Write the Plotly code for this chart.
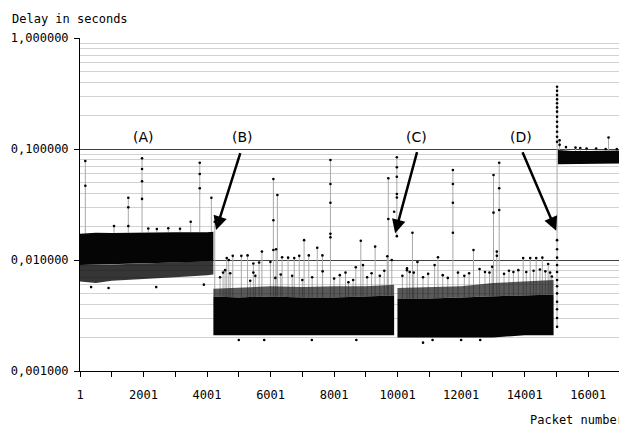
import numpy as np
import plotly.graph_objects as go

# ---------------- data ----------------
x_tick_vals = [1, 1001, 2001, 3001, 4001, 5001, 6001, 7001, 8001, 9001, 10001,
               11001, 12001, 13001, 14001, 15001, 16001, 17001]
x_tick_text = ["1", "", "2001", "", "4001", "", "6001", "", "8001", "", "10001",
               "", "12001", "", "14001", "", "16001", ""]
y_tick_vals = [0.001, 0.01, 0.1, 1.0]
y_tick_text = ["0,001000", "0,010000", "0,100000", "1,000000"]

# dense band (A): packets 1..4200
band_a_packets = [1, 500, 1000, 2000, 3000, 4000, 4200]
band_a_top = [0.0172, 0.0176, 0.0175, 0.0177, 0.0178, 0.0178, 0.0180]
band_a_core_bottom = [0.0090, 0.0090, 0.0091, 0.0093, 0.0095, 0.0097, 0.0098]
band_a_fringe_bottom = [0.0064, 0.0062, 0.0065, 0.0067, 0.0070, 0.0073, 0.0074]

# dense band after (B): packets 4200..9890
band_b_packets = [4200, 5000, 6000, 7000, 8000, 9000, 9890]
band_b_top = [0.0047, 0.0046, 0.0047, 0.0046, 0.0046, 0.0047, 0.0048]
band_b_halo = [0.0055, 0.0056, 0.0058, 0.0057, 0.0058, 0.0058, 0.0060]
band_b_bottom = [0.0021, 0.0021, 0.0021, 0.0021, 0.0021, 0.0021, 0.0021]

# dense band after (C): packets 9995..14910
band_c_packets = [9995, 11000, 12000, 13000, 14000, 14910]
band_c_top = [0.0045, 0.0045, 0.0046, 0.0047, 0.0048, 0.0049]
band_c_halo = [0.0056, 0.0057, 0.0058, 0.0062, 0.0064, 0.0066]
band_c_bottom = [0.0020, 0.0020, 0.0020, 0.0020, 0.0021, 0.0021]

# dense band after (D): packets 15046..17000
band_d_packets = [15046, 15500, 16000, 16500, 17000]
band_d_top = [0.098, 0.096, 0.096, 0.097, 0.097]
band_d_bottom = [0.073, 0.074, 0.073, 0.074, 0.074]

# isolated peaks (packet number, delays of the dots on the peak)
spike_packets = [168, 1072, 1522, 1954, 2150, 2420, 2780, 3150, 3486, 3771, 4136, 4243,
                 4410, 4505, 4568, 4621, 4684, 4730, 4810, 5080, 5276, 5360, 5459, 5520,
                 5639, 5728, 5995, 6089, 6150, 6173, 6215, 6320, 6363, 6552, 6680, 6745,
                 6903, 7000, 7056, 7204, 7310, 7470, 7633, 7640, 7885, 8000, 8180, 8360,
                 8452, 8600, 8684, 8841, 8910, 9040, 9180, 9292, 9440, 9580, 9675, 9707,
                 9817, 9891, 9976, 10150, 10295, 10380, 10467, 10508, 10624, 10800, 10960,
                 11165, 11270, 11420, 11580, 11740, 11900, 12100, 12250, 12388, 12580,
                 12750, 12892, 12976, 13019, 13123, 13198, 13350, 13505, 13645, 13800,
                 13953, 14050, 14174, 14280, 14363, 14480, 14556, 14650, 14740, 14800,
                 14857, 15020, 15100, 15300, 15600, 15750, 15950, 16250, 16550, 16640,
                 16900]
spike_delays = [
    [0.078, 0.0467], [0.0202], [0.0364, 0.0298, 0.0202], [0.0824, 0.066, 0.0512, 0.0355],
    [0.0192], [0.0190], [0.0193], [0.0191], [0.0221], [0.0753, 0.0595, 0.0443],
    [0.0364], [0.0221],
    [0.0070], [0.0077], [0.0081], [0.0104], [0.0100], [0.0076], [0.0109], [0.0109],
    [0.0110], [0.0065], [0.0093, 0.0077], [0.0072],
    [0.0095], [0.0119], [0.0096], [0.0537, 0.0228, 0.0123], [0.0069], [0.0125],
    [0.0385], [0.0074], [0.0106], [0.0105], [0.0072], [0.0104],
    [0.0109], [0.0066], [0.0151], [0.0110], [0.0070], [0.0129], [0.0110], [0.0079],
    [0.0796, 0.0484, 0.0328, 0.0172, 0.0160], [0.0068], [0.0073], [0.0077],
    [0.0063], [0.0066], [0.0086], [0.0149], [0.0090], [0.0070], [0.0076], [0.0132],
    [0.0072], [0.0080], [0.0108], [0.0545, 0.0234],
    [0.0100], [0.0272], [0.0842, 0.0685, 0.0563, 0.0393, 0.0366, 0.0164], [0.0072],
    [0.0084, 0.0081], [0.0078], [0.0176], [0.0077], [0.0096], [0.0070], [0.0075],
    [0.0090], [0.0106], [0.0073], [0.0069], [0.0647, 0.0484, 0.0328, 0.0176],
    [0.0077], [0.0072], [0.0076], [0.0123], [0.0083],
    [0.0078], [0.0077], [0.0087], [0.0583, 0.0267], [0.0119, 0.0109],
    [0.0753, 0.0443, 0.0282], [0.0075], [0.0080], [0.0078], [0.0081],
    [0.0104], [0.0078], [0.0104], [0.0080], [0.0104], [0.0082], [0.0105], [0.0079],
    [0.0092], [0.0077],
    [0.0071],
    [0.0025, 0.0030, 0.0036, 0.0042, 0.0050, 0.0058, 0.0066, 0.0078, 0.0090, 0.0105,
     0.0125, 0.0151, 0.116, 0.129, 0.143, 0.159, 0.176, 0.195, 0.217, 0.237, 0.258,
     0.280, 0.306, 0.335, 0.364],
    [0.120, 0.109], [0.104], [0.103], [0.102], [0.101], [0.101], [0.100], [0.127],
    [0.100],
]

# a few low outliers below the bands
low_packets = [350, 900, 2400, 3900, 5000, 5800, 7300, 8700, 10800, 11100, 12000, 12600]
low_delays = [0.0057, 0.0056, 0.0057, 0.0060, 0.0019, 0.0019, 0.0019, 0.0019,
              0.0018, 0.0019, 0.0019, 0.0019]

# ---------------- drawing ----------------
bands_for_top = [(band_a_packets, band_a_top), (band_b_packets, band_b_top),
                 (band_c_packets, band_c_top), (band_d_packets, band_d_top)]


def top_at(p):
    for pk, tp in bands_for_top:
        if pk[0] <= p <= pk[-1]:
            return float(np.interp(p, pk, tp))
    return None


def band(packets, upper, lower, color):
    xs = list(packets) + list(packets)[::-1]
    ys = list(upper) + list(lower)[::-1]
    return go.Scatter(x=xs, y=ys, fill="toself", fillcolor=color, mode="lines",
                      line=dict(width=0, color=color), hoverinfo="skip")


fig = go.Figure()

# peak connection lines
lx, ly = [], []
for p, ds in zip(spike_packets, spike_delays):
    t = top_at(p)
    base = min(ds) if t is None else min(min(ds), t)
    lx += [p, p, None]
    ly += [base, max(ds), None]
fig.add_trace(go.Scatter(x=lx, y=ly, mode="lines", line=dict(color="#a8a8a8", width=1),
                         hoverinfo="skip"))

# dense bands
fig.add_trace(band(band_a_packets, band_a_core_bottom, band_a_fringe_bottom, "rgba(10,10,10,0.82)"))
fig.add_trace(band(band_a_packets, band_a_top, band_a_core_bottom, "#050505"))
fig.add_trace(band(band_b_packets, band_b_halo, band_b_top, "rgba(10,10,10,0.68)"))
fig.add_trace(band(band_c_packets, band_c_halo, band_c_top, "rgba(10,10,10,0.68)"))
fig.add_trace(band(band_b_packets, band_b_top, band_b_bottom, "#050505"))
fig.add_trace(band(band_c_packets, band_c_top, band_c_bottom, "#050505"))
fig.add_trace(band(band_d_packets, band_d_top, band_d_bottom, "#050505"))

# dots
dx, dy = [], []
for p, ds in zip(spike_packets, spike_delays):
    for d in ds:
        dx.append(p)
        dy.append(d)
dx += low_packets
dy += low_delays
fig.add_trace(go.Scatter(x=dx, y=dy, mode="markers",
                         marker=dict(color="black", size=2.6, line=dict(width=0)),
                         hoverinfo="skip"))

mono = "DejaVu Sans Mono"
minor_vals = [m * 10.0 ** e for e in (-3, -2, -1) for m in range(2, 10)]

# the page adds an 8px body margin, so the figure is 8px smaller than the window
fig.update_layout(
    width=619, height=420,
    margin=dict(l=72, r=7, t=30, b=57, autoexpand=False),
    plot_bgcolor="white", paper_bgcolor="white",
    showlegend=False,
    font=dict(family=mono, size=12, color="black"),
    xaxis=dict(range=[1, 17001], tickvals=x_tick_vals, ticktext=x_tick_text,
               ticks="outside", ticklen=5, tickcolor="black", showline=True,
               linecolor="black", linewidth=1, showgrid=False, zeroline=False,
               automargin=False, ticklabelstandoff=8,
               tickfont=dict(family=mono, size=12, color="black")),
    yaxis=dict(type="log", range=[-3, 0], tickvals=y_tick_vals, ticktext=y_tick_text,
               ticks="outside", ticklen=5, tickcolor="black", showline=True,
               linecolor="black", linewidth=1, showgrid=True, gridcolor="#404040",
               gridwidth=1, zeroline=False, automargin=False, ticklabelstandoff=3,
               tickfont=dict(family=mono, size=12, color="black"),
               minor=dict(tickvals=minor_vals, showgrid=True, gridcolor="#d2d2d2",
                          gridwidth=1, ticks="")),
)

# axis titles
fig.add_annotation(text="Delay in seconds", xref="paper", yref="paper",
                   x=-0.1296, y=1.057, xanchor="left", yanchor="middle",
                   showarrow=False, font=dict(family=mono, size=12, color="black"))
fig.add_annotation(text="Packet number", xref="paper", yref="paper",
                   x=0.830, y=-0.147, xanchor="left", yanchor="middle",
                   showarrow=False, font=dict(family=mono, size=12, color="black"))

# labels (A)-(D)
for label, px in [("(A)", 1985), ("(B)", 5103), ("(C)", 10606), ("(D)", 13891)]:
    fig.add_annotation(text=label, x=px, y=-0.889, xref="x", yref="y",
                       showarrow=False, xanchor="center", yanchor="middle",
                       font=dict(family="DejaVu Sans", size=14, color="black"))

# arrows
for tip_x, tip_y, tail_x, tail_y in [(4284, -1.730, 5062, -1.024),
                                     (9922, -1.760, 10624, -1.015),
                                     (14993, -1.736, 13913, -1.015)]:
    fig.add_annotation(text="", x=tip_x, y=tip_y, ax=tail_x, ay=tail_y,
                       xref="x", yref="y", axref="x", ayref="y",
                       showarrow=True, arrowhead=2, arrowsize=1.1, arrowwidth=2.5,
                       arrowcolor="black", standoff=0, startstandoff=0)

fig.write_html("out.html")
